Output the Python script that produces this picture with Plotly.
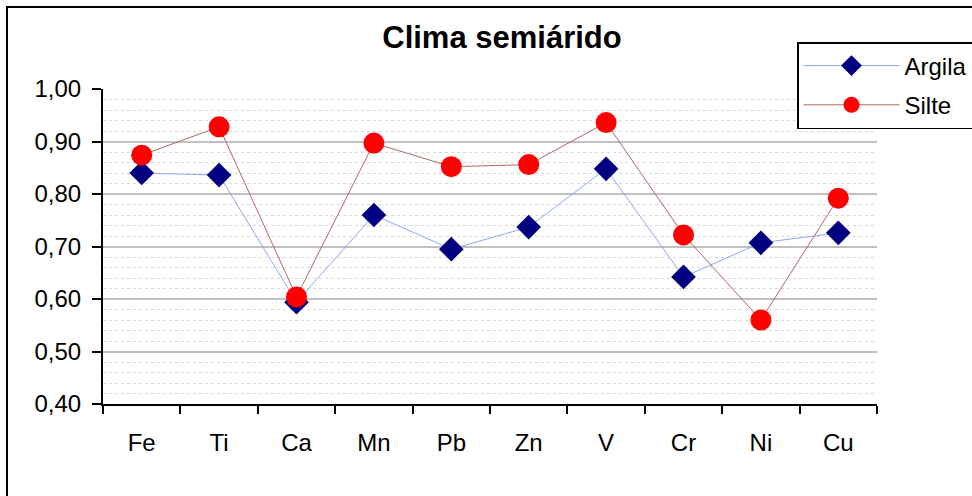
import plotly.graph_objects as go

categories = ["Fe", "Ti", "Ca", "Mn", "Pb", "Zn", "V", "Cr", "Ni", "Cu"]
argila = [0.840, 0.836, 0.594, 0.760, 0.695, 0.737, 0.848, 0.642, 0.707, 0.726]
silte = [0.874, 0.928, 0.604, 0.897, 0.852, 0.856, 0.936, 0.722, 0.560, 0.792]
y_ticks = [0.4, 0.5, 0.6, 0.7, 0.8, 0.9, 1.0]
y_ticktext = ["0,40", "0,50", "0,60", "0,70", "0,80", "0,90", "1,00"]

FONT = "Liberation Sans, Arial, sans-serif"

fig = go.Figure()
fig.add_trace(go.Scatter(
    x=categories, y=argila, name="Argila", mode="lines+markers", legendgroup="a",
    line=dict(color="#8DA9F2", width=1),
    marker=dict(symbol="diamond", size=19, color="#000080"),
))
fig.add_trace(go.Scatter(
    x=categories, y=silte, name="Silte", mode="lines+markers", legendgroup="b",
    line=dict(color="#B06868", width=1),
    marker=dict(symbol="circle", size=21, color="#FF0000"),
))

L, R, T, B = 103, 877, 89, 404
W, H = 972, 496
pw, ph = R - L, B - T

fig.update_layout(
    width=W, height=H,
    margin=dict(l=L, r=W - R, t=T, b=H - B, autoexpand=False),
    paper_bgcolor="white", plot_bgcolor="white",
    font=dict(family=FONT, size=24, color="black"),
    title=dict(text="<b>Clima semiárido</b>", x=502 / W, xanchor="center",
               y=1 - 37 / H, yanchor="middle", font=dict(size=31, family=FONT)),
    showlegend=True,
    legend=dict(x=(797 - L) / pw, xanchor="left", y=(B - 42) / ph, yanchor="top",
                bordercolor="black", borderwidth=1.5, bgcolor="white",
                font=dict(size=24, family=FONT), itemwidth=96,
                tracegroupgap=5, traceorder="grouped"),
    hovermode=False,
)
fig.update_xaxes(
    type="category", showline=True, linecolor="black", linewidth=2,
    ticks="outside", tickson="boundaries", ticklen=8, tickwidth=2, tickcolor="black",
    showgrid=False, range=[-0.5, 9.5], ticklabelstandoff=16,
)
fig.update_yaxes(
    range=[0.4, 1.0], tickvals=y_ticks, ticktext=y_ticktext,
    showline=True, linecolor="black", linewidth=2,
    ticks="outside", ticklen=9, tickwidth=2, tickcolor="black",
    showgrid=True, gridcolor="#C0C0C0", gridwidth=2, ticklabelstandoff=6,
    minor=dict(dtick=0.02, showgrid=True, gridcolor="#D8D8D8", gridwidth=1, griddash="dot", ticks=""),
    zeroline=False,
)
# outer chart border
fig.add_shape(type="rect", xref="paper", yref="paper",
              x0=(7 - L) / pw, x1=(W + 20 - L) / pw,
              y0=(B - (H + 20)) / ph, y1=(B - 7) / ph,
              line=dict(color="black", width=2), layer="above")

fig.write_html("out.html")
